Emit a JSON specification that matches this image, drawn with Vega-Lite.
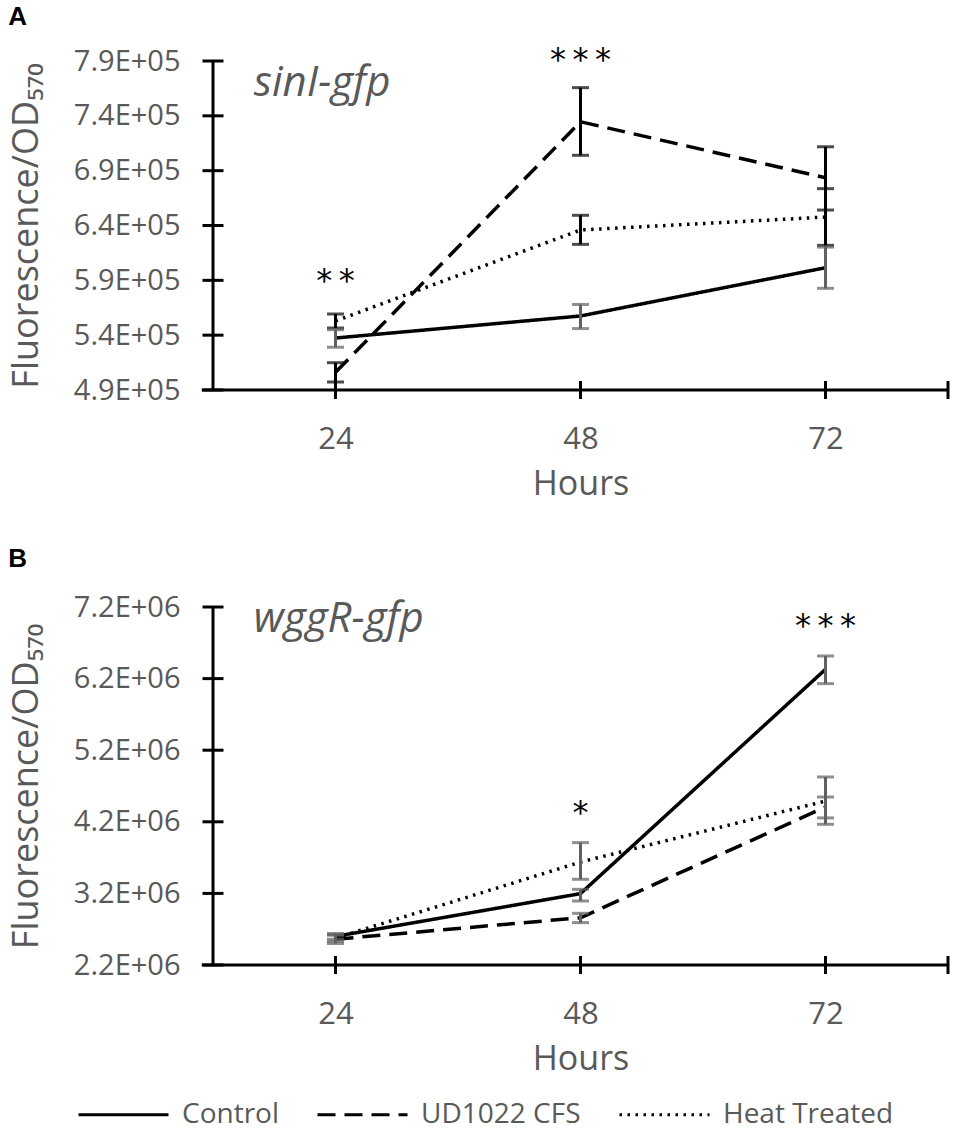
{
  "$schema": "https://vega.github.io/schema/vega-lite/v6.json",
  "background": "white",
  "padding": {"left": 8, "top": 3, "right": 3, "bottom": 3},
  "config": {
    "view": {"stroke": null},
    "font": "Open Sans",
    "axis": {
      "grid": false,
      "domain": false,
      "ticks": false,
      "tickSize": 0,
      "labelColor": "#595959",
      "labelFont": "Open Sans",
      "titleColor": "#595959",
      "titleFont": "Open Sans",
      "titleFontWeight": "normal"
    },
    "axisY": {"labelFontSize": 29, "labelPadding": 33, "titleFontSize": 36, "titlePadding": 28},
    "axisX": {"labelFontSize": 31, "labelPadding": 34, "titleFontSize": 34, "titlePadding": 13},
    "title": {"anchor": "start", "frame": "bounds", "font": "Liberation Sans", "fontWeight": "bold", "fontSize": 26, "color": "black"},
    "legend": {
      "orient": "none",
      "legendX": -136,
      "legendY": 1007,
      "direction": "horizontal",
      "title": null,
      "symbolType": "stroke",
      "symbolSize": 8100,
      "symbolStrokeWidth": 3,
      "symbolStrokeColor": "black",
      "labelFont": "Open Sans",
      "labelFontSize": 28,
      "labelColor": "#595959",
      "labelLimit": 400,
      "columnPadding": 32,
      "labelOffset": 12
    }
  },
  "datasets": {
    "sinI": [
      {"series": "Control", "hours": 24, "mean": 537400, "lo": 529000, "hi": 545000},
      {"series": "Control", "hours": 48, "mean": 557500, "lo": 546000, "hi": 568000},
      {"series": "Control", "hours": 72, "mean": 601500, "lo": 582700, "hi": 620300},
      {"series": "UD1022 CFS", "hours": 24, "mean": 506100, "lo": 497300, "hi": 514900},
      {"series": "UD1022 CFS", "hours": 48, "mean": 734600, "lo": 704000, "hi": 765700},
      {"series": "UD1022 CFS", "hours": 72, "mean": 683600, "lo": 654100, "hi": 711800},
      {"series": "Heat Treated", "hours": 24, "mean": 552900, "lo": 546500, "hi": 559300},
      {"series": "Heat Treated", "hours": 48, "mean": 635900, "lo": 622800, "hi": 649300},
      {"series": "Heat Treated", "hours": 72, "mean": 647700, "lo": 621900, "hi": 673600}
    ],
    "wggR": [
      {"series": "Control", "hours": 24, "mean": 2600000, "lo": 2560000, "hi": 2640000},
      {"series": "Control", "hours": 48, "mean": 3197000, "lo": 3094000, "hi": 3257000},
      {"series": "Control", "hours": 72, "mean": 6330000, "lo": 6130000, "hi": 6516000},
      {"series": "UD1022 CFS", "hours": 24, "mean": 2560000, "lo": 2500000, "hi": 2620000},
      {"series": "UD1022 CFS", "hours": 48, "mean": 2860000, "lo": 2792000, "hi": 2922000},
      {"series": "UD1022 CFS", "hours": 72, "mean": 4407000, "lo": 4254000, "hi": 4546000},
      {"series": "Heat Treated", "hours": 24, "mean": 2575000, "lo": 2530000, "hi": 2620000},
      {"series": "Heat Treated", "hours": 48, "mean": 3638000, "lo": 3397000, "hi": 3909000},
      {"series": "Heat Treated", "hours": 72, "mean": 4490000, "lo": 4165000, "hi": 4826000}
    ],
    "sinIStars": [
      {"hours": 24, "label": "*\u2009*", "y": 589000},
      {"hours": 48, "label": "*\u2009*\u2009*", "y": 791000}
    ],
    "wggRStars": [
      {"hours": 48, "label": "*", "y": 4320000},
      {"hours": 72, "label": "*\u2009*\u2009*", "y": 6940000}
    ],
    "sinIGene": [{"hours": 16, "y": 758000, "label": "sinI-gfp"}],
    "wggRGene": [{"hours": 16, "y": 6847000, "label": "wggR-gfp"}],
    "sinIYTicks": [{"v": 490000}, {"v": 540000}, {"v": 590000}, {"v": 640000}, {"v": 690000}, {"v": 740000}, {"v": 790000}],
    "wggRYTicks": [{"v": 2200000}, {"v": 3200000}, {"v": 4200000}, {"v": 5200000}, {"v": 6200000}, {"v": 7200000}],
    "xTicks": [{"h": 24}, {"h": 48}, {"h": 72}, {"h": 84}]
  },
  "spacing": 45,
  "vconcat": [
    {
      "title": {"text": "A", "offset": 14},
      "width": 735,
      "height": 329,
      "layer": [
        {
          "data": {"name": "sinI"},
          "mark": {"type": "line", "color": "black", "strokeWidth": 3.5},
          "encoding": {
            "x": {
              "field": "hours", "type": "quantitative", "title": "Hours",
              "scale": {"domain": [12, 84], "nice": false, "zero": false},
              "axis": {"values": [24, 48, 72]}
            },
            "y": {
              "field": "mean", "type": "quantitative", "title": "Fluorescence/OD₅₇₀",
              "scale": {"domain": [490000, 790000], "zero": false, "nice": false},
              "axis": {
                "values": [490000, 540000, 590000, 640000, 690000, 740000, 790000],
                "labelExpr": "format(datum.value / 100000, '.1f') + 'E+05'"
              }
            },
            "strokeDash": {
              "field": "series", "type": "nominal",
              "scale": {"domain": ["Control", "UD1022 CFS", "Heat Treated"], "range": [[1, 0], [18, 9], [2.5, 5.5]]}
            }
          }
        },
        {
          "data": {"name": "sinI"},
          "mark": {"type": "errorbar", "thickness": 3, "ticks": {"size": 17, "thickness": 3}},
          "encoding": {
            "x": {"field": "hours", "type": "quantitative", "title": "Hours"},
            "y": {"field": "lo", "type": "quantitative", "title": "Fluorescence/OD₅₇₀"},
            "y2": {"field": "hi"},
            "color": {"condition": {"test": "datum.series === 'Control'", "value": "#606060"}, "value": "black"}
          }
        },
        {
          "data": {"values": [{}]},
          "mark": {"type": "rule", "color": "black", "strokeWidth": 3},
          "encoding": {
            "x": {"datum": 12, "type": "quantitative"},
            "y": {"datum": 490000, "type": "quantitative"},
            "y2": {"datum": 790000}
          }
        },
        {
          "data": {"values": [{}]},
          "mark": {"type": "rule", "color": "black", "strokeWidth": 3},
          "encoding": {
            "x": {"datum": 10.9, "type": "quantitative"},
            "x2": {"datum": 84},
            "y": {"datum": 490000, "type": "quantitative"}
          }
        },
        {
          "data": {"name": "sinIYTicks"},
          "mark": {"type": "tick", "orient": "horizontal", "size": 21, "thickness": 3, "color": "black", "opacity": 1},
          "encoding": {
            "x": {"datum": 12, "type": "quantitative"},
            "y": {"field": "v", "type": "quantitative", "title": "Fluorescence/OD₅₇₀"}
          }
        },
        {
          "data": {"name": "xTicks"},
          "mark": {"type": "tick", "orient": "vertical", "size": 18, "thickness": 3, "color": "black", "opacity": 1},
          "encoding": {
            "x": {"field": "h", "type": "quantitative", "title": "Hours"},
            "y": {"datum": 490000, "type": "quantitative"}
          }
        },
        {
          "data": {"name": "sinIStars"},
          "mark": {"type": "text", "font": "DejaVu Sans", "fontSize": 32, "color": "black", "baseline": "middle", "align": "center"},
          "encoding": {
            "x": {"field": "hours", "type": "quantitative", "title": "Hours"},
            "y": {"field": "y", "type": "quantitative", "title": "Fluorescence/OD₅₇₀"},
            "text": {"field": "label"}
          }
        },
        {
          "data": {"name": "sinIGene"},
          "mark": {"type": "text", "font": "Open Sans", "fontStyle": "italic", "fontSize": 42, "color": "#595959", "baseline": "alphabetic", "align": "left"},
          "encoding": {
            "x": {"field": "hours", "type": "quantitative", "title": "Hours"},
            "y": {"field": "y", "type": "quantitative", "title": "Fluorescence/OD₅₇₀"},
            "text": {"field": "label"}
          }
        }
      ]
    },
    {
      "title": {"text": "B", "offset": 21},
      "width": 735,
      "height": 358,
      "layer": [
        {
          "data": {"name": "wggR"},
          "mark": {"type": "line", "color": "black", "strokeWidth": 3.5},
          "encoding": {
            "x": {
              "field": "hours", "type": "quantitative", "title": "Hours",
              "scale": {"domain": [12, 84], "nice": false, "zero": false},
              "axis": {"values": [24, 48, 72]}
            },
            "y": {
              "field": "mean", "type": "quantitative", "title": "Fluorescence/OD₅₇₀",
              "scale": {"domain": [2200000, 7200000], "zero": false, "nice": false},
              "axis": {
                "values": [2200000, 3200000, 4200000, 5200000, 6200000, 7200000],
                "labelExpr": "format(datum.value / 1000000, '.1f') + 'E+06'"
              }
            },
            "strokeDash": {
              "field": "series", "type": "nominal",
              "scale": {"domain": ["Control", "UD1022 CFS", "Heat Treated"], "range": [[1, 0], [18, 9], [2.5, 5.5]]}
            }
          }
        },
        {
          "data": {"name": "wggR"},
          "mark": {"type": "errorbar", "color": "#606060", "thickness": 3, "ticks": {"size": 17, "thickness": 3}},
          "encoding": {
            "x": {"field": "hours", "type": "quantitative", "title": "Hours"},
            "y": {"field": "lo", "type": "quantitative", "title": "Fluorescence/OD₅₇₀"},
            "y2": {"field": "hi"}
          }
        },
        {
          "data": {"values": [{}]},
          "mark": {"type": "rule", "color": "black", "strokeWidth": 3},
          "encoding": {
            "x": {"datum": 12, "type": "quantitative"},
            "y": {"datum": 2200000, "type": "quantitative"},
            "y2": {"datum": 7200000}
          }
        },
        {
          "data": {"values": [{}]},
          "mark": {"type": "rule", "color": "black", "strokeWidth": 3},
          "encoding": {
            "x": {"datum": 10.9, "type": "quantitative"},
            "x2": {"datum": 84},
            "y": {"datum": 2200000, "type": "quantitative"}
          }
        },
        {
          "data": {"name": "wggRYTicks"},
          "mark": {"type": "tick", "orient": "horizontal", "size": 21, "thickness": 3, "color": "black", "opacity": 1},
          "encoding": {
            "x": {"datum": 12, "type": "quantitative"},
            "y": {"field": "v", "type": "quantitative", "title": "Fluorescence/OD₅₇₀"}
          }
        },
        {
          "data": {"name": "xTicks"},
          "mark": {"type": "tick", "orient": "vertical", "size": 18, "thickness": 3, "color": "black", "opacity": 1},
          "encoding": {
            "x": {"field": "h", "type": "quantitative", "title": "Hours"},
            "y": {"datum": 2200000, "type": "quantitative"}
          }
        },
        {
          "data": {"name": "wggRStars"},
          "mark": {"type": "text", "font": "DejaVu Sans", "fontSize": 32, "color": "black", "baseline": "middle", "align": "center"},
          "encoding": {
            "x": {"field": "hours", "type": "quantitative", "title": "Hours"},
            "y": {"field": "y", "type": "quantitative", "title": "Fluorescence/OD₅₇₀"},
            "text": {"field": "label"}
          }
        },
        {
          "data": {"name": "wggRGene"},
          "mark": {"type": "text", "font": "Open Sans", "fontStyle": "italic", "fontSize": 42, "color": "#595959", "baseline": "alphabetic", "align": "left"},
          "encoding": {
            "x": {"field": "hours", "type": "quantitative", "title": "Hours"},
            "y": {"field": "y", "type": "quantitative", "title": "Fluorescence/OD₅₇₀"},
            "text": {"field": "label"}
          }
        }
      ]
    }
  ]
}
